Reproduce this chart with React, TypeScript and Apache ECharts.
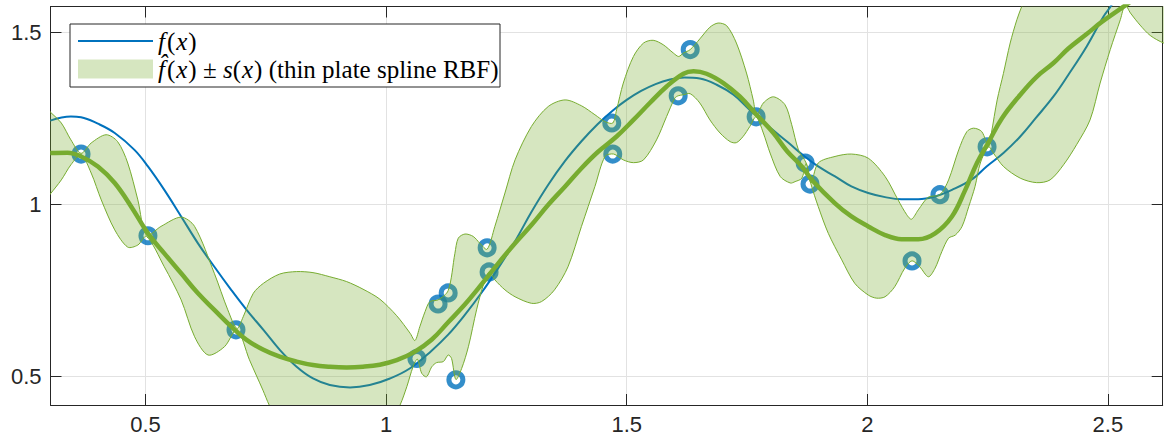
import React, { useEffect, useRef } from 'react';
import * as echarts from 'echarts';

// axis limits
const X_MIN = 0.3025;
const X_MAX = 2.614;
const Y_MIN = 0.418;
const Y_MAX = 1.574;

// noisy samples (circles)
const ptX = [0.366, 0.505, 0.688, 1.064, 1.108, 1.129, 1.145, 1.210, 1.214, 1.469, 1.471, 1.607, 1.632, 1.769, 1.871, 1.881, 2.093, 2.151, 2.249];
const ptY = [1.146, 0.909, 0.636, 0.553, 0.711, 0.743, 0.491, 0.874, 0.804, 1.236, 1.146, 1.315, 1.449, 1.254, 1.120, 1.059, 0.836, 1.028, 1.167];

// true function f(x)
const fX = [0.302, 0.345, 0.366, 0.401, 0.436, 0.477, 0.505, 0.539, 0.574, 0.609, 0.643, 0.678, 0.710, 0.745, 0.779, 0.814, 0.848, 0.883, 0.925, 0.966, 1.008, 1.049, 1.094, 1.129, 1.164, 1.199, 1.233, 1.268, 1.302, 1.337, 1.372, 1.406, 1.440, 1.470, 1.500, 1.530, 1.560, 1.590, 1.620, 1.652, 1.687, 1.722, 1.756, 1.791, 1.835, 1.870, 1.898, 1.933, 1.967, 2.002, 2.037, 2.071, 2.106, 2.141, 2.176, 2.219, 2.248, 2.283, 2.318, 2.350, 2.387, 2.418, 2.456, 2.491, 2.508, 2.530];
const fY = [1.243, 1.255, 1.253, 1.234, 1.207, 1.158, 1.110, 1.042, 0.965, 0.887, 0.819, 0.752, 0.694, 0.636, 0.578, 0.529, 0.495, 0.476, 0.469, 0.476, 0.495, 0.524, 0.575, 0.622, 0.680, 0.745, 0.815, 0.893, 0.978, 1.057, 1.126, 1.183, 1.233, 1.271, 1.303, 1.329, 1.349, 1.362, 1.368, 1.365, 1.347, 1.318, 1.274, 1.231, 1.180, 1.139, 1.110, 1.081, 1.052, 1.033, 1.021, 1.015, 1.015, 1.023, 1.042, 1.074, 1.110, 1.149, 1.197, 1.250, 1.313, 1.376, 1.458, 1.545, 1.579, 1.640];

// RBF prediction fhat(x)
const meanX = [0.302, 0.338, 0.366, 0.401, 0.436, 0.470, 0.505, 0.539, 0.574, 0.609, 0.643, 0.680, 0.710, 0.745, 0.779, 0.814, 0.848, 0.883, 0.918, 0.952, 0.987, 1.022, 1.060, 1.095, 1.129, 1.164, 1.199, 1.233, 1.268, 1.302, 1.337, 1.372, 1.406, 1.440, 1.479, 1.514, 1.548, 1.583, 1.618, 1.639, 1.666, 1.701, 1.735, 1.770, 1.805, 1.833, 1.864, 1.885, 1.933, 1.967, 2.002, 2.037, 2.071, 2.106, 2.141, 2.176, 2.203, 2.228, 2.252, 2.280, 2.318, 2.352, 2.387, 2.418, 2.456, 2.488, 2.535, 2.580];
const meanY = [1.149, 1.150, 1.139, 1.110, 1.062, 0.994, 0.916, 0.858, 0.800, 0.742, 0.694, 0.643, 0.607, 0.578, 0.558, 0.544, 0.534, 0.529, 0.527, 0.529, 0.535, 0.548, 0.573, 0.608, 0.658, 0.710, 0.769, 0.829, 0.887, 0.940, 0.999, 1.052, 1.105, 1.152, 1.197, 1.245, 1.294, 1.342, 1.379, 1.386, 1.379, 1.352, 1.313, 1.260, 1.207, 1.155, 1.110, 1.071, 1.003, 0.965, 0.936, 0.911, 0.899, 0.899, 0.916, 0.965, 1.040, 1.120, 1.180, 1.250, 1.318, 1.370, 1.410, 1.452, 1.494, 1.530, 1.576, 1.620];

// band upper edge fhat + s
const upX = [0.290, 0.302, 0.325, 0.345, 0.366, 0.387, 0.418, 0.442, 0.463, 0.484, 0.502, 0.532, 0.574, 0.602, 0.643, 0.671, 0.690, 0.703, 0.724, 0.745, 0.779, 0.814, 0.848, 0.883, 0.918, 0.952, 0.987, 1.022, 1.050, 1.060, 1.070, 1.081, 1.091, 1.108, 1.129, 1.143, 1.150, 1.164, 1.181, 1.195, 1.210, 1.226, 1.247, 1.268, 1.302, 1.337, 1.372, 1.406, 1.434, 1.455, 1.471, 1.479, 1.493, 1.514, 1.535, 1.555, 1.576, 1.597, 1.608, 1.618, 1.632, 1.652, 1.673, 1.690, 1.708, 1.728, 1.749, 1.763, 1.770, 1.784, 1.805, 1.829, 1.843, 1.857, 1.873, 1.883, 1.898, 1.933, 1.967, 2.002, 2.037, 2.064, 2.082, 2.092, 2.106, 2.127, 2.151, 2.169, 2.190, 2.207, 2.221, 2.238, 2.252, 2.258, 2.270, 2.283, 2.297, 2.311, 2.321, 2.350, 2.400, 2.450, 2.500, 2.536, 2.560, 2.600, 2.630];
const upY = [1.285, 1.268, 1.236, 1.187, 1.148, 1.178, 1.202, 1.182, 1.120, 1.013, 0.910, 0.936, 0.963, 0.936, 0.800, 0.694, 0.640, 0.674, 0.742, 0.771, 0.798, 0.805, 0.802, 0.790, 0.776, 0.754, 0.725, 0.677, 0.626, 0.605, 0.645, 0.689, 0.718, 0.723, 0.750, 0.858, 0.902, 0.914, 0.907, 0.887, 0.870, 0.936, 1.033, 1.129, 1.226, 1.284, 1.303, 1.286, 1.260, 1.240, 1.236, 1.274, 1.352, 1.429, 1.468, 1.476, 1.463, 1.439, 1.429, 1.439, 1.449, 1.480, 1.514, 1.526, 1.518, 1.468, 1.381, 1.303, 1.258, 1.294, 1.312, 1.289, 1.231, 1.158, 1.120, 1.062, 1.120, 1.139, 1.146, 1.134, 1.081, 1.013, 0.970, 0.957, 0.984, 1.021, 1.028, 1.071, 1.158, 1.211, 1.221, 1.211, 1.167, 1.207, 1.303, 1.380, 1.468, 1.536, 1.574, 1.680, 1.760, 1.760, 1.680, 1.585, 1.660, 1.740, 1.780];

// band lower edge fhat - s
const loX = [0.290, 0.302, 0.325, 0.345, 0.366, 0.387, 0.408, 0.436, 0.463, 0.484, 0.502, 0.539, 0.574, 0.602, 0.630, 0.664, 0.690, 0.716, 0.744, 0.757, 0.790, 0.840, 0.890, 0.950, 1.000, 1.029, 1.043, 1.056, 1.065, 1.074, 1.084, 1.095, 1.105, 1.119, 1.129, 1.136, 1.145, 1.157, 1.171, 1.188, 1.202, 1.214, 1.226, 1.247, 1.268, 1.302, 1.323, 1.350, 1.378, 1.406, 1.434, 1.455, 1.473, 1.493, 1.514, 1.535, 1.562, 1.583, 1.600, 1.607, 1.618, 1.632, 1.652, 1.673, 1.694, 1.715, 1.728, 1.742, 1.756, 1.769, 1.784, 1.798, 1.819, 1.840, 1.850, 1.864, 1.873, 1.883, 1.898, 1.919, 1.947, 1.974, 2.002, 2.019, 2.037, 2.057, 2.078, 2.093, 2.109, 2.127, 2.141, 2.155, 2.169, 2.183, 2.197, 2.211, 2.224, 2.235, 2.252, 2.262, 2.283, 2.318, 2.352, 2.380, 2.408, 2.435, 2.463, 2.484, 2.505, 2.526, 2.536, 2.547, 2.567, 2.588, 2.616, 2.630];
const loY = [1.010, 1.030, 1.071, 1.115, 1.144, 1.091, 1.013, 0.926, 0.876, 0.882, 0.907, 0.819, 0.723, 0.616, 0.563, 0.587, 0.637, 0.549, 0.461, 0.418, 0.330, 0.260, 0.230, 0.260, 0.340, 0.418, 0.471, 0.529, 0.551, 0.510, 0.500, 0.529, 0.541, 0.544, 0.563, 0.553, 0.492, 0.524, 0.587, 0.694, 0.766, 0.804, 0.781, 0.752, 0.732, 0.713, 0.718, 0.752, 0.819, 0.936, 1.052, 1.139, 1.146, 1.129, 1.121, 1.129, 1.187, 1.255, 1.308, 1.315, 1.318, 1.321, 1.294, 1.245, 1.207, 1.182, 1.179, 1.197, 1.226, 1.254, 1.207, 1.149, 1.081, 1.062, 1.066, 1.076, 1.118, 1.059, 0.994, 0.916, 0.839, 0.771, 0.737, 0.728, 0.732, 0.761, 0.815, 0.836, 0.819, 0.790, 0.815, 0.863, 0.902, 0.911, 0.936, 0.994, 1.052, 1.120, 1.167, 1.149, 1.110, 1.076, 1.063, 1.071, 1.115, 1.173, 1.245, 1.352, 1.449, 1.536, 1.578, 1.555, 1.520, 1.490, 1.468, 1.466];

const BLUE = '#0072BD';
const GREEN = '#77AC30';
const AXIS_COLOR = '#262626';
const SANS = '"Liberation Sans", Arial, Helvetica, sans-serif';
const SERIF = '"Liberation Serif", "Times New Roman", serif';

const zip = (xs: number[], ys: number[]) => xs.map((x, i) => [x, ys[i]]);

const legendRich = {
  i: { fontFamily: SERIF, fontStyle: 'italic', fontSize: 25, fill: '#000' },
  f: { fontFamily: SERIF, fontStyle: 'italic', fontSize: 25, fill: '#000', padding: [0, 2, 0, 0] },
  x: { fontFamily: SERIF, fontStyle: 'italic', fontSize: 25, fill: '#000', padding: [0, 1, 0, 1] },
  n: { fontFamily: SERIF, fontSize: 25, fill: '#000' },
};

export default function App() {
  const ref = useRef<HTMLDivElement>(null);

  useEffect(() => {
    if (!ref.current) return;
    const chart = echarts.init(ref.current, null, { renderer: 'svg' });

    const axisLine = { show: true, onZero: false, lineStyle: { color: AXIS_COLOR, width: 1 } };
    const axisTick = { show: true, inside: true, length: 11, lineStyle: { color: AXIS_COLOR, width: 1 } };
    const labelStyle = { fontSize: 22, color: AXIS_COLOR, fontFamily: SANS, showMinLabel: false, showMaxLabel: false };
    const splitLine = { show: true, showMinLine: false, showMaxLine: false, lineStyle: { color: '#e2e2e2', width: 1 } };

    const option: any = {
      animation: false,
      backgroundColor: '#ffffff',
      grid: { left: 50.5, right: 7.3, top: 6.5, bottom: 32, containLabel: false },
      xAxis: [
        { type: 'value', position: 'bottom', min: X_MIN, max: X_MAX, splitNumber: 5, axisLine, axisTick, axisLabel: { ...labelStyle, margin: 8 }, splitLine },
        { type: 'value', position: 'top', min: X_MIN, max: X_MAX, splitNumber: 5, axisLine, axisTick, axisLabel: { show: false }, splitLine: { show: false } },
      ],
      yAxis: [
        { type: 'value', position: 'left', min: Y_MIN, max: Y_MAX, splitNumber: 2, axisLine, axisTick, axisLabel: { ...labelStyle, margin: 9 }, splitLine },
        { type: 'value', position: 'right', min: Y_MIN, max: Y_MAX, splitNumber: 2, axisLine, axisTick, axisLabel: { show: false }, splitLine: { show: false } },
      ],
      series: [
        {
          name: 'f(x)', type: 'line', xAxisIndex: 0, yAxisIndex: 0, z: 2,
          data: zip(fX, fY), showSymbol: false, smooth: 0.4, clip: true,
          lineStyle: { color: BLUE, width: 2 },
        },
        {
          name: 'samples', type: 'scatter', xAxisIndex: 0, yAxisIndex: 0, z: 3,
          data: zip(ptX, ptY), symbol: 'circle', symbolSize: 14,
          itemStyle: { color: 'rgba(0,0,0,0)', borderColor: BLUE, borderWidth: 5 },
        },
        {
          name: 'band', type: 'custom', xAxisIndex: 0, yAxisIndex: 0, z: 4, clip: true, silent: true,
          data: [[1, 1]],
          renderItem: (_params: any, api: any) => {
            const pts: number[][] = [];
            for (let i = 0; i < upX.length; i++) pts.push(api.coord([upX[i], upY[i]]));
            for (let i = loX.length - 1; i >= 0; i--) pts.push(api.coord([loX[i], loY[i]]));
            return {
              type: 'polygon',
              shape: { points: pts, smooth: 0.3 },
              style: { fill: 'rgba(119,172,48,0.3)', stroke: GREEN, lineWidth: 1 },
            };
          },
        },
        {
          name: 'fhat', type: 'line', xAxisIndex: 0, yAxisIndex: 0, z: 5,
          data: zip(meanX, meanY), showSymbol: false, smooth: 0.4, clip: true,
          lineStyle: { color: GREEN, width: 4.5 },
        },
      ],
      graphic: [
        { type: 'rect', z: 100, shape: { x: 70, y: 24, width: 430, height: 63 }, style: { fill: '#ffffff', stroke: AXIS_COLOR, lineWidth: 1 } },
        { type: 'line', z: 101, shape: { x1: 78, y1: 41, x2: 153, y2: 41 }, style: { stroke: BLUE, lineWidth: 2 } },
        { type: 'rect', z: 101, shape: { x: 78, y: 59.5, width: 75, height: 19 }, style: { fill: 'rgba(119,172,48,0.3)' } },
        {
          type: 'text', z: 101, x: 158, y: 41,
          style: {
            text: '{f|f}{n|(}{x|x}{n|)}',
            verticalAlign: 'middle', fill: '#000',
            rich: legendRich,
          },
        },
        {
          type: 'text', z: 101, x: 158, y: 69,
          style: {
            text: '{f|f\u0302}{n|(}{x|x}{n|) ± }{i|s}{n|(}{x|x}{n|) (thin plate spline RBF)}',
            verticalAlign: 'middle', fill: '#000',
            rich: legendRich,
          },
        },
      ],
    };

    chart.setOption(option);
    return () => chart.dispose();
  }, []);

  return (
    <div
      ref={ref}
      style={{ position: 'fixed', left: 0, top: 0, width: 1170, height: 437, background: '#ffffff' }}
    />
  );
}
